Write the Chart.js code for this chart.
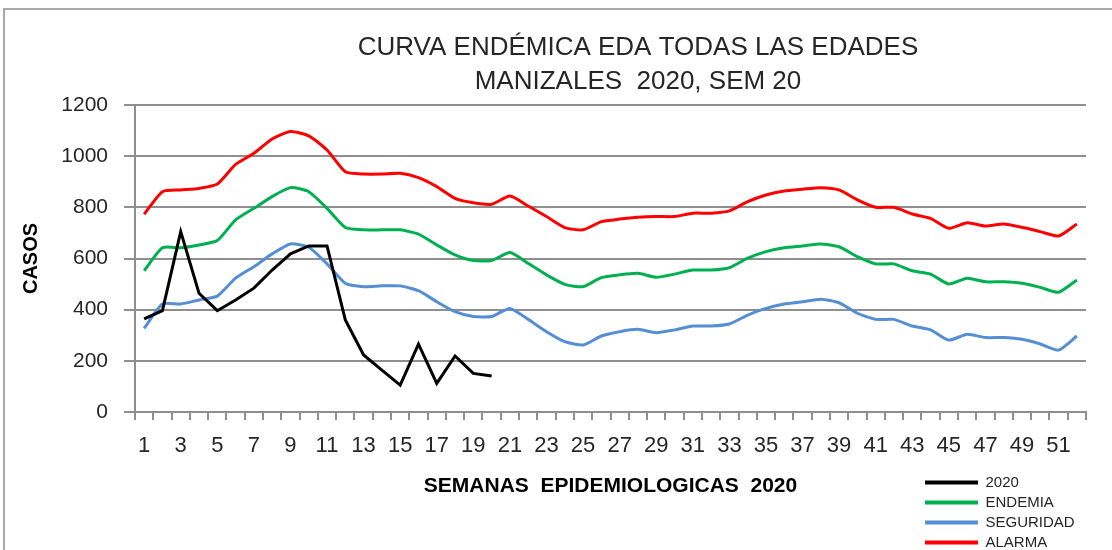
<!DOCTYPE html>
<html>
<head>
<meta charset="utf-8">
<script src="https://cdn.jsdelivr.net/npm/chart.js@4"></script>
<style>
html,body{margin:0;padding:0;background:#fff;overflow:hidden;width:1112px;height:550px;}
#frame{position:absolute;left:3px;top:8px;width:1200px;height:700px;border:2px solid #a9a9a9;box-sizing:border-box;}
#c{position:absolute;left:0;top:0;}
</style>
</head>
<body>
<div id="frame"></div>
<canvas id="c" width="1112" height="550"></canvas>
<script>
// ---- data ----
const titleLines = ['CURVA ENDÉMICA EDA TODAS LAS EDADES', 'MANIZALES  2020, SEM 20'];
const xTitle = 'SEMANAS  EPIDEMIOLOGICAS  2020';
const yTitle = 'CASOS';
const weeks = [1,2,3,4,5,6,7,8,9,10,11,12,13,14,15,16,17,18,19,20,21,22,23,24,25,26,
               27,28,29,30,31,32,33,34,35,36,37,38,39,40,41,42,43,44,45,46,47,48,49,50,51,52];
const xTickLabels = ['1','','3','','5','','7','','9','','11','','13','','15','','17','','19','','21','','23','','25','',
                     '27','','29','','31','','33','','35','','37','','39','','41','','43','','45','','47','','49','','51',''];
const yTicks = [0, 200, 400, 600, 800, 1000, 1200];

const serie2020 = [364, 396, 705, 464, 396, 438, 484, 555, 618, 649, 649, 360, 223, 164, 105, 265, 112, 219, 151, 141];
const endemia = [552, 642, 642, 653, 670, 751, 796, 842, 877, 861, 796, 721, 712, 712, 712, 695, 653, 614, 592, 592,
                 623, 581, 536, 499, 490, 525, 536, 542, 527, 539, 555, 555, 564, 601, 627, 642, 649, 657, 646, 607,
                 579, 579, 552, 539, 500, 523, 509, 509, 503, 487, 468, 516];
const seguridad = [327, 422, 422, 438, 453, 523, 568, 618, 657, 644, 579, 503, 490, 493, 493, 474, 431, 392, 373, 373,
                   405, 362, 314, 275, 262, 297, 314, 323, 310, 321, 336, 336, 344, 379, 405, 422, 431, 441, 427, 386,
                   362, 362, 336, 321, 281, 304, 291, 291, 284, 266, 242, 297];
const alarma = [773, 861, 868, 874, 891, 968, 1011, 1067, 1096, 1079, 1024, 939, 930, 930, 933, 916, 881, 835, 818, 812,
                844, 805, 764, 721, 712, 744, 754, 761, 764, 764, 777, 777, 786, 822, 848, 864, 871, 877, 868, 829,
                800, 800, 774, 757, 718, 740, 727, 735, 722, 705, 688, 735];

// ---- fonts ----
const SANS = '"Liberation Sans", Arial, sans-serif';
const GRID = '#8f8f8f';

const relocate = {
  id: 'relocate',
  afterLayout(chart) {
    const t = chart.titleBlock;
    if (t) { t.left += 95; t.right += 95; }
    const lg = chart.legend;
    if (lg) {
      const w = lg.width, h = lg.height;
      lg.left = 920; lg.top = 470;
      lg.right = lg.left + w; lg.bottom = lg.top + h;
    }
  }
};

new Chart(document.getElementById('c'), {
  type: 'line',
  data: {
    labels: weeks,
    datasets: [
      { label: '2020', data: serie2020, borderColor: '#000000', backgroundColor: '#000000', borderWidth: 3, tension: 0, pointRadius: 0 },
      { label: 'ENDEMIA', data: endemia, borderColor: '#00B050', backgroundColor: '#00B050', borderWidth: 3, tension: 0.2, pointRadius: 0 },
      { label: 'SEGURIDAD', data: seguridad, borderColor: '#558ED5', backgroundColor: '#558ED5', borderWidth: 3, tension: 0.2, pointRadius: 0 },
      { label: 'ALARMA', data: alarma, borderColor: '#FF0000', backgroundColor: '#FF0000', borderWidth: 3, tension: 0.2, pointRadius: 0 }
    ]
  },
  options: {
    responsive: false,
    animation: false,
    devicePixelRatio: 1,
    layout: { padding: { left: 0, right: 26, top: 0, bottom: 0 } },
    plugins: {
      title: {
        display: true,
        text: titleLines,
        color: '#262626',
        font: { family: SANS, size: 26, weight: 'normal', lineHeight: 34 / 26 },
        padding: { top: 31, bottom: 6 }
      },
      legend: {
        position: 'chartArea',
        align: 'start',
        labels: {
          usePointStyle: true,
          pointStyle: 'line',
          pointStyleWidth: 53,
          padding: 5,
          color: '#262626',
          font: { family: SANS, size: 15 },
          generateLabels: (chart) => Chart.defaults.plugins.legend.labels.generateLabels(chart).map(l => Object.assign(l, { lineWidth: 4 }))
        }
      },
      tooltip: { enabled: false }
    },
    scales: {
      x: {
        offset: true,
        afterFit: (s) => { s.height = 138; },
        grid: { offset: true, drawOnChartArea: false, drawTicks: true, tickLength: 8, color: GRID, lineWidth: 2 },
        border: { color: GRID, width: 2 },
        ticks: {
          autoSkip: false, maxRotation: 0, minRotation: 0, padding: 13,
          color: '#262626', font: { family: SANS, size: 22 },
          callback: (v, i) => xTickLabels[i]
        },
        title: {
          display: true, text: xTitle, color: '#000000',
          font: { family: SANS, size: 21, weight: 'bold' },
          padding: { top: 0, bottom: 51 }
        }
      },
      y: {
        min: yTicks[0], max: yTicks[yTicks.length - 1],
        afterFit: (s) => { s.width = 135; },
        afterBuildTicks: (s) => { s.ticks = yTicks.map(v => ({ value: v })); },
        grid: { color: GRID, lineWidth: 2, tickLength: 11 },
        border: { color: GRID, width: 2 },
        ticks: { padding: 16, color: '#262626', font: { family: SANS, size: 21 }, callback: (v) => String(v) },
        title: {
          display: true, text: yTitle, color: '#000000',
          font: { family: SANS, size: 20, weight: 'bold' },
          padding: { top: 19, bottom: 0 }
        }
      }
    }
  },
  plugins: [relocate]
});
</script>
</body>
</html>
